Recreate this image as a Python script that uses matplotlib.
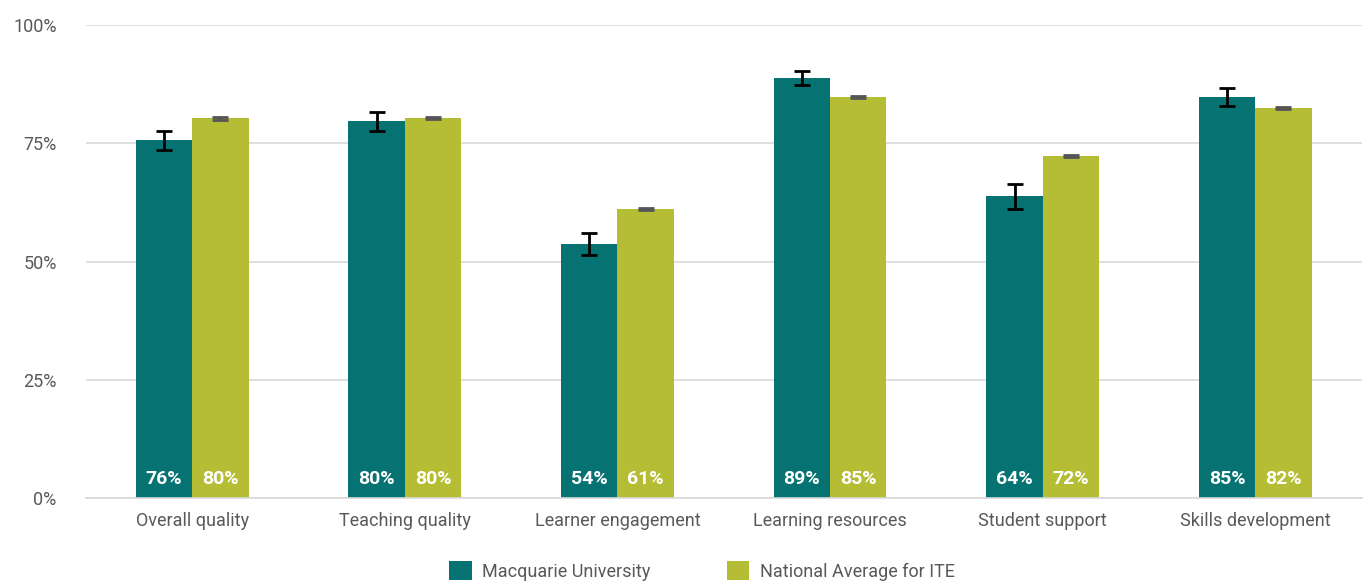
import matplotlib.pyplot as plt
import numpy as np
from matplotlib import font_manager

# Data
categories = ['Overall quality', 'Teaching quality', 'Learner engagement',
              'Learning resources', 'Student support', 'Skills development']
macquarie = [75.7, 79.7, 53.8, 88.8, 63.8, 84.8]
macquarie_err = [2.0, 2.0, 2.3, 1.5, 2.7, 1.8]
national = [80.3, 80.3, 61.1, 84.8, 72.3, 82.5]
national_err = [0.3, 0.2, 0.2, 0.2, 0.2, 0.2]
mq_labels = ['76%', '80%', '54%', '89%', '64%', '85%']
nat_labels = ['80%', '80%', '61%', '85%', '72%', '82%']
yticks = [0, 25, 50, 75, 100]

names = {f.name for f in font_manager.fontManager.ttflist}
fam = 'Liberation Sans Narrow' if 'Liberation Sans Narrow' in names else 'Roboto'
plt.rcParams['font.family'] = [fam, 'DejaVu Sans']

teal = '#077272'
olive = '#b5bd35'
grey_text = '#595959'

fig = plt.figure(figsize=(13.63, 5.84), dpi=100)
ax = fig.add_axes([0.063, 0.147, 0.936, 0.81])

x = np.arange(len(categories))
w = 0.265
ax.bar(x - w / 2, macquarie, w, color=teal, label='Macquarie University', zorder=2)
ax.bar(x + w / 2, national, w, color=olive, label='National Average for ITE', zorder=2)
ax.errorbar(x - w / 2, macquarie, yerr=macquarie_err, fmt='none', ecolor='black',
            elinewidth=2, capsize=6, capthick=2, zorder=3)
ax.errorbar(x + w / 2, national, yerr=national_err, fmt='none', ecolor='#555555',
            elinewidth=2, capsize=6, capthick=2, zorder=3)

for i in range(len(categories)):
    ax.text(x[i] - w / 2, 4, mq_labels[i], ha='center', va='center', color='white',
            fontsize=14, fontweight='bold', zorder=4)
    ax.text(x[i] + w / 2, 4, nat_labels[i], ha='center', va='center', color='white',
            fontsize=14, fontweight='bold', zorder=4)

ax.set_xlim(-0.5, 5.5)
ax.set_ylim(0, 100)
ax.set_yticks(yticks)
ax.set_yticklabels([f'{t}%' for t in yticks])
ax.set_xticks(x)
ax.set_xticklabels(categories)
ax.tick_params(axis='both', length=0, labelsize=13, labelcolor=grey_text)
ax.tick_params(axis='y', pad=21)
ax.tick_params(axis='x', pad=10)
ax.grid(axis='y', color='#d9d9d9', linewidth=1.2, zorder=0)
for s in ['top', 'right', 'left']:
    ax.spines[s].set_visible(False)
ax.spines['bottom'].set_color('#d9d9d9')
ax.spines['bottom'].set_linewidth(1.2)

leg = fig.legend(loc='lower center', ncol=2, frameon=False, bbox_to_anchor=(0.515, -0.022),
                 fontsize=13, handlelength=1.25, handleheight=1.25, columnspacing=4.2,
                 handletextpad=0.6)
for t in leg.get_texts():
    t.set_color(grey_text)

fig.savefig('out.png', dpi=100)
